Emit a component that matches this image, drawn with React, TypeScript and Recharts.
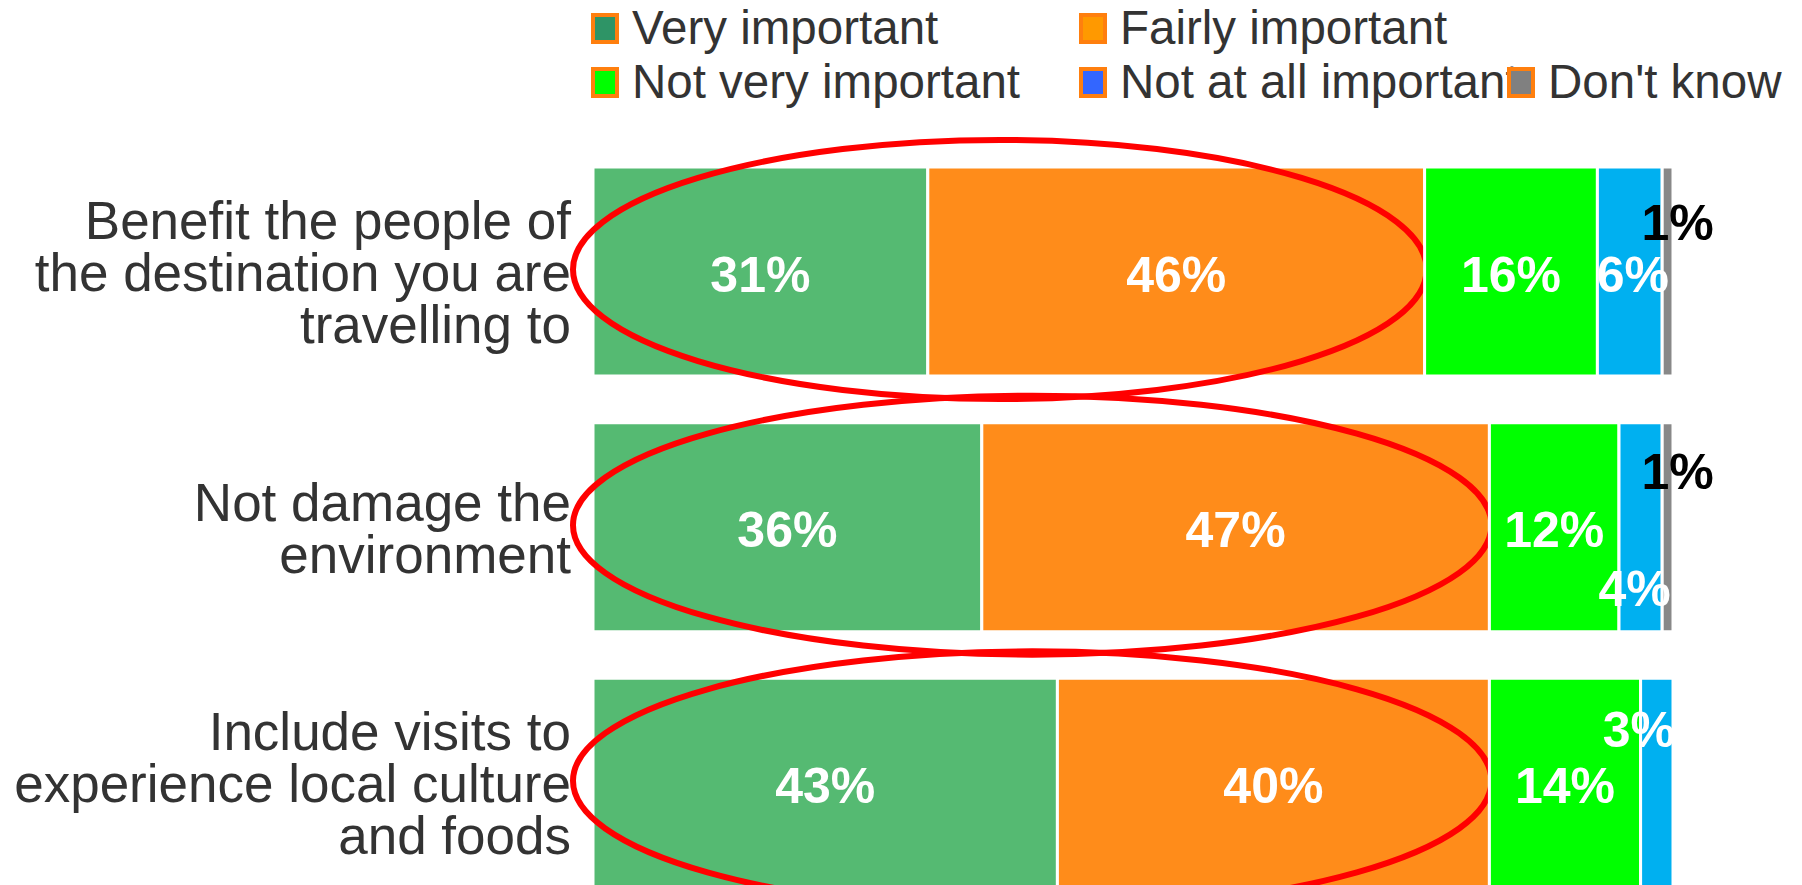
import React from 'react';
import { BarChart, Bar, XAxis, YAxis, Legend, LabelList, Rectangle } from 'recharts';

// survey answers, percent of respondents per statement
const categories = [
  'Benefit the people of the destination you are travelling to',
  'Not damage the environment',
  'Include visits to experience local culture and foods',
];
const veryImportant = [31, 36, 43];
const fairlyImportant = [46, 47, 40];
const notVeryImportant = [16, 12, 14];
const notAtAllImportant = [6, 4, 3];
const dontKnow = [1, 1, 0];

const FONT = '"Liberation Sans", Arial, Helvetica, sans-serif';

const SERIES = [
  { key: 'veryImportant', name: 'Very important', fill: '#55ba72', legendFill: '#2e9466' },
  { key: 'fairlyImportant', name: 'Fairly important', fill: '#ff8c1a', legendFill: '#ff9900' },
  { key: 'notVeryImportant', name: 'Not very important', fill: '#00ff00', legendFill: '#00ff00' },
  { key: 'notAtAllImportant', name: 'Not at all important', fill: '#00b0f0', legendFill: '#3366ff' },
  { key: 'dontKnow', name: "Don't know", fill: '#888888', legendFill: '#808080' },
];

const data = categories.map((name, i) => ({
  name,
  veryImportant: veryImportant[i],
  fairlyImportant: fairlyImportant[i],
  notVeryImportant: notVeryImportant[i],
  notAtAllImportant: notAtAllImportant[i],
  dontKnow: dontKnow[i],
}));

// legend item placement (two rows, wrapped)
const LEGEND_POS = [
  { x: 591, y: 8 },
  { x: 1079, y: 8 },
  { x: 591, y: 62 },
  { x: 1079, y: 62 },
  { x: 1507, y: 62 },
];

// small labels pushed off their segment so they don't collide
const LABEL_NUDGE: Record<string, { dx: number; dy: number; color?: string }> = {
  'notAtAllImportant:0': { dx: 3, dy: 0 },
  'notAtAllImportant:1': { dx: -6, dy: 59 },
  'notAtAllImportant:2': { dx: -18, dy: -56 },
  'dontKnow:0': { dx: 10, dy: -52, color: '#000' },
  'dontKnow:1': { dx: 10, dy: -58, color: '#000' },
};

function wrapWords(text: string, max: number) {
  const lines: string[] = [];
  let cur = '';
  text.split(' ').forEach((w) => {
    const next = cur ? cur + ' ' + w : w;
    if (next.length > max && cur) {
      lines.push(cur);
      cur = w;
    } else {
      cur = next;
    }
  });
  if (cur) lines.push(cur);
  return lines;
}

function CategoryTick({ x, y, payload }: any) {
  const lines = wrapWords(String(payload.value), 24);
  const lh = 52;
  const start = -((lines.length - 1) * lh) / 2;
  return (
    <text x={x} y={y} textAnchor="end" fill="#333" fontSize={53} fontFamily={FONT}>
      {lines.map((l, i) => (
        <tspan key={i} x={x} dy={i === 0 ? start + 19 : lh}>
          {l}
        </tspan>
      ))}
    </text>
  );
}

const makeLabel = (key: string) => (props: any) => {
  const box = props.viewBox ?? props;
  const { x, y, width, height } = box;
  const { value, index } = props;
  if (!value) return null;
  const n = LABEL_NUDGE[`${key}:${index}`] ?? { dx: 0, dy: 0 };
  return (
    <text
      x={x + width / 2 + n.dx}
      y={y + height / 2 + n.dy + 20}
      textAnchor="middle"
      fill={n.color ?? '#fff'}
      fontSize={50}
      fontWeight="bold"
      fontFamily={FONT}
    >
      {value}%
    </text>
  );
};

// fairly-important segment also carries the red highlight ring around very + fairly
function FairlyShape(props: any) {
  const { x, y, width, height, payload } = props;
  const left = x - width * (payload.veryImportant / payload.fairlyImportant) - 20;
  const right = x + width + 2;
  return (
    <g>
      <Rectangle {...props} />
      <ellipse
        cx={(left + right) / 2}
        cy={y + height / 2 - 2}
        rx={(right - left) / 2}
        ry={height / 2 + 25}
        fill="none"
        stroke="#ff0000"
        strokeWidth={6}
      />
    </g>
  );
}

function ChartLegend() {
  return (
    <div style={{ position: 'relative', width: 1802, height: 110, fontFamily: FONT }}>
      {SERIES.map((s, i) => (
        <div
          key={s.key}
          style={{
            position: 'absolute',
            left: LEGEND_POS[i].x,
            top: LEGEND_POS[i].y,
            height: 40,
            display: 'flex',
            alignItems: 'center',
            whiteSpace: 'nowrap',
          }}
        >
          <span
            style={{
              display: 'inline-block',
              width: 20,
              height: 23,
              border: '4px solid #ff7f0e',
              background: s.legendFill,
            }}
          />
          <span style={{ marginLeft: 13, fontSize: 47.5, lineHeight: 1, color: '#333' }}>{s.name}</span>
        </div>
      ))}
    </div>
  );
}

export default function App() {
  return (
    <div style={{ width: 1802, height: 885, overflow: 'hidden', background: '#fff', fontFamily: FONT }}>
      <style>{'html,body{margin:0;padding:0;overflow:hidden;background:#fff;}'}</style>
      <BarChart
        width={1802}
        height={911}
        data={data}
        layout="vertical"
        margin={{ top: 144, right: 129, bottom: 0, left: 0 }}
        barSize={209}
      >
        <XAxis type="number" domain={[0, 100]} hide />
        <YAxis
          type="category"
          dataKey="name"
          width={593}
          axisLine={false}
          tickLine={false}
          tickSize={0}
          tickMargin={22}
          tick={<CategoryTick />}
          interval={0}
        />
        <Legend
          layout="vertical"
          align="center"
          verticalAlign="middle"
          wrapperStyle={{ top: 0, left: 0, width: 1802, height: 110 }}
          content={() => <ChartLegend />}
        />
        {SERIES.map((s) => (
          <Bar
            key={s.key}
            dataKey={s.key}
            name={s.name}
            stackId="a"
            fill={s.fill}
            stroke="#fff"
            strokeWidth={3}
            isAnimationActive={false}
            shape={s.key === 'fairlyImportant' ? <FairlyShape /> : undefined}
          >
            <LabelList dataKey={s.key} content={makeLabel(s.key)} />
          </Bar>
        ))}
      </BarChart>
    </div>
  );
}
